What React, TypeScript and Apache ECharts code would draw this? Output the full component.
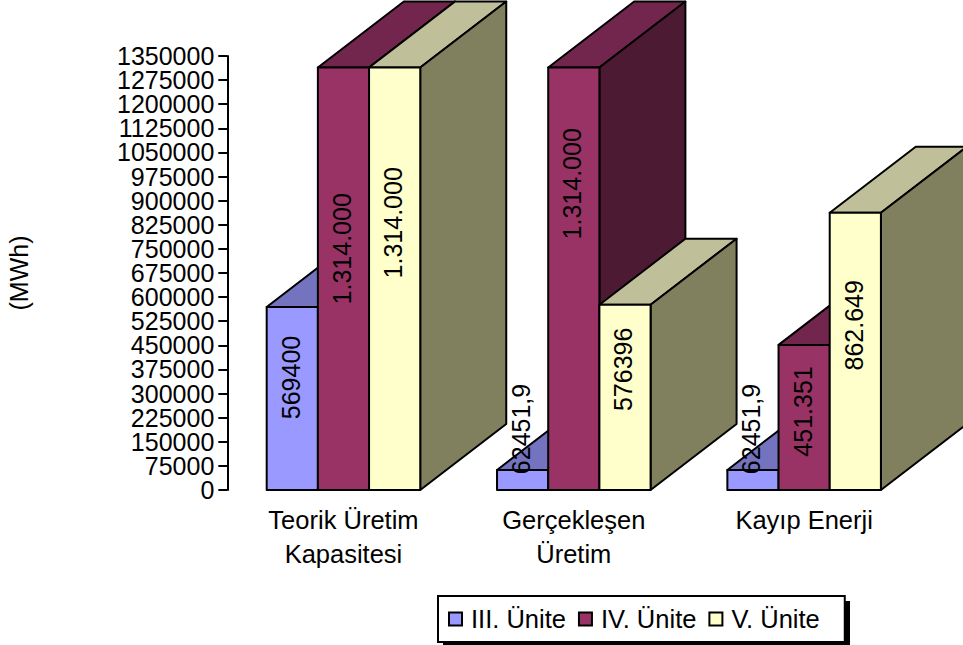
import React, { useEffect, useRef } from "react";
import * as echarts from "echarts";

const categories = ["Teorik Üretim\nKapasitesi", "Gerçekleşen\nÜretim", "Kayıp Enerji"];
const unitNames = ["III. Ünite", "IV. Ünite", "V. Ünite"];
const unit3Values = [569400, 62451.9, 62451.9];
const unit4Values = [1314000, 1314000, 451351];
const unit5Values = [1314000, 576396, 862649];
const unit3Labels = ["569400", "62451,9", "62451,9"];
const unit4Labels = ["1.314.000", "1.314.000", "451.351"];
const unit5Labels = ["1.314.000", "576396", "862.649"];
const evenTickLabels = [0, 150000, 300000, 450000, 600000, 750000, 900000, 1050000, 1200000, 1350000];
const oddTickLabels = [75000, 225000, 375000, 525000, 675000, 825000, 975000, 1125000, 1275000];

// drawing styles, separate from the data
const FRONT = ["#9999FF", "#993366", "#FFFFCC"];
const TOP = ["#7373BF", "#73264D", "#BFBF99"];
const SIDE = ["#4D4D80", "#4D1A33", "#80805F"];
const DEPTH_X = 86;
const DEPTH_Y = 66;
const LABEL_LIFT = [
  [21, 51, 51],
  [30, 95, 6],
  [56, 28, 26],
];
const FONT = "Liberation Sans, Arial, sans-serif";
const FONT_SIZE = 25;

function makeSeries(k: number, values: number[], labels: string[]) {
  return {
    type: "custom",
    name: unitNames[k],
    clip: false,
    yAxisIndex: 0,
    itemStyle: { color: FRONT[k] },
    data: values.map((v, i) => [i, v]),
    encode: { x: 0, y: 1 },
    renderItem: (_params: any, api: any) => {
      const i = api.value(0);
      const top = api.coord([i, api.value(1)]);
      const base = api.coord([i, 0]);
      const band = api.size([1, 0])[0];
      const w = band / 1.5 / 3;
      const x0 = base[0] - 1.5 * w + k * w;
      const x1 = x0 + w;
      const y0 = top[1];
      const y1 = base[1];
      const stroke = { stroke: "#000", lineWidth: 2, lineJoin: "round" };
      return {
        type: "group",
        children: [
          {
            type: "polygon",
            shape: { points: [[x0, y0], [x1, y0], [x1 + DEPTH_X, y0 - DEPTH_Y], [x0 + DEPTH_X, y0 - DEPTH_Y]] },
            style: { fill: TOP[k], ...stroke },
          },
          {
            type: "polygon",
            shape: { points: [[x1, y0], [x1 + DEPTH_X, y0 - DEPTH_Y], [x1 + DEPTH_X, y1 - DEPTH_Y], [x1, y1]] },
            style: { fill: SIDE[k], ...stroke },
          },
          {
            type: "rect",
            shape: { x: x0, y: y0, width: w, height: y1 - y0 },
            style: { fill: FRONT[k], ...stroke },
          },
          {
            type: "text",
            x: x0 + w / 2 - 1.5,
            y: (y0 + y1) / 2 - LABEL_LIFT[k][i],
            rotation: Math.PI / 2,
            style: {
              text: labels[i],
              fill: "#000",
              font: `${FONT_SIZE}px ${FONT}`,
              align: "center",
              verticalAlign: "middle",
            },
          },
        ],
      };
    },
  };
}

const tickLabelStyle = {
  color: "#000",
  fontSize: FONT_SIZE,
  fontFamily: FONT,
  margin: 13,
  hideOverlap: false,
  formatter: (v: number) => String(v),
};

export default function App() {
  const ref = useRef<HTMLDivElement>(null);
  useEffect(() => {
    const chart = echarts.init(ref.current!, undefined, { renderer: "svg" });
    chart.setOption({
      animation: false,
      backgroundColor: "#fff",
      textStyle: { fontFamily: FONT },
      grid: { left: 228.3, top: 56, width: 691, height: 434, containLabel: false, outerBoundsMode: "none" },
      xAxis: {
        type: "category",
        data: categories,
        axisLine: { show: false },
        axisTick: { show: false },
        axisLabel: { color: "#000", fontSize: 25.5, fontFamily: FONT, lineHeight: 34, margin: 13 },
      },
      yAxis: [
        {
          type: "value",
          position: "left",
          min: 0,
          max: 1350000,
          interval: 75000,
          name: "(MWh)",
          nameLocation: "middle",
          nameRotate: 90,
          nameGap: 196,
          nameTextStyle: { color: "#000", fontSize: FONT_SIZE, fontFamily: FONT },
          offset: 1,
          splitLine: { show: false },
          axisLine: { show: true, lineStyle: { color: "#000", width: 2 } },
          axisTick: { show: true, length: 9, lineStyle: { color: "#000", width: 2 } },
          axisLabel: { ...tickLabelStyle, customValues: evenTickLabels },
        },
        {
          type: "value",
          position: "left",
          min: 0,
          max: 1350000,
          interval: 75000,
          offset: 1,
          splitLine: { show: false },
          axisLine: { show: false },
          axisTick: { show: false },
          axisLabel: { ...tickLabelStyle, customValues: oddTickLabels },
        },
      ],
      legend: {
        left: 438,
        top: 596,
        orient: "horizontal",
        data: unitNames,
        icon: "rect",
        itemWidth: 13,
        itemHeight: 13,
        itemGap: 12,
        padding: [10, 25, 10, 10],
        backgroundColor: "#fff",
        borderColor: "#000",
        borderWidth: 2,
        itemStyle: { borderColor: "#000", borderWidth: 2 },
        textStyle: { color: "#000", fontSize: 25.5, fontFamily: FONT, padding: [0, 0, 0, 4] },
      },
      graphic: [
        { type: "rect", z: 1, shape: { x: 443, y: 601, width: 407, height: 46 }, style: { fill: "#000" } },
      ],
      series: [
        makeSeries(0, unit3Values, unit3Labels),
        makeSeries(1, unit4Values, unit4Labels),
        makeSeries(2, unit5Values, unit5Labels),
      ],
    });
    return () => chart.dispose();
  }, []);
  return <div ref={ref} style={{ position: "absolute", left: 0, top: 0, width: 963, height: 645 }} />;
}
